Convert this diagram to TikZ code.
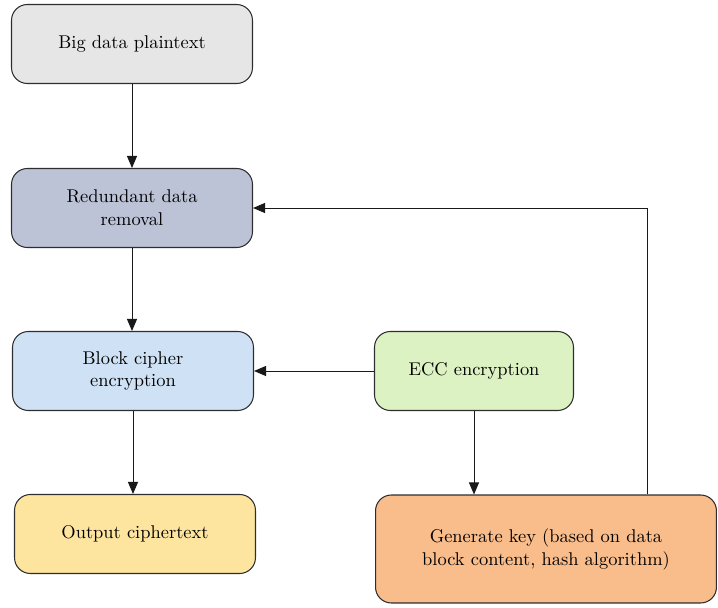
\documentclass[tikz,border=0pt]{standalone}
\usepackage{xcolor}
\usetikzlibrary{arrows.meta, calc}
\definecolor{plaingray}{HTML}{E6E6E6}
\definecolor{redundblue}{HTML}{BCC3D6}
\definecolor{blockblue}{HTML}{CFE2F5}
\definecolor{outyellow}{HTML}{FDE5A0}
\definecolor{eccgreen}{HTML}{DDF2C3}
\definecolor{keyorange}{HTML}{F9BC8B}
\definecolor{edgegray}{HTML}{2E2E2E}

\begin{document}
\begin{tikzpicture}[
  x=0.02cm, y=-0.02cm,
  font=\fontsize{10.5}{13}\selectfont,
  box/.style={rectangle, rounded corners=9pt, draw=edgegray, line width=0.6pt,
              minimum width=4.82cm, minimum height=1.58cm, align=center, text=black},
  arr/.style={-{Triangle[length=2.4mm, width=2mm]}, line width=0.55pt, draw=black!90}
]
\useasboundingbox (0,0) rectangle (718,608);
%% nodes (L column x=132, R column x=474)
\node[box, fill=plaingray]  (b_plain)  at (132, 44)  {Big data plaintext};
\node[box, fill=redundblue] (b_redund) at (132, 208) {Redundant data\\removal};
\node[box, fill=blockblue]  (b_block)  at (133, 371) {Block cipher\\encryption};
\node[box, fill=outyellow]  (b_out)    at (135, 534) {Output ciphertext};
\node[box, fill=eccgreen, minimum width=3.98cm] (b_ecc) at (474, 371) {ECC encryption};
\node[box, fill=keyorange, minimum width=6.82cm, minimum height=2.16cm]
    (b_key) at (546, 549) {Generate key (based on data\\block content, hash algorithm)};
%% turning point of the key feedback line
\coordinate (fb_turn) at (647, 208);
%% arrows
\draw[arr] (b_plain)  -- (b_redund);
\draw[arr] (b_redund.south) -- (b_redund.south |- b_block.north);
\draw[arr] (b_block.south)  -- (b_block.south |- b_out.north);
\draw[arr] (b_ecc.west)  -- (b_block.east |- b_ecc.west);
\draw[arr] (b_ecc.south) -- (b_ecc.south |- b_key.north);
%% feedback: key goes back to redundancy removal
\draw[arr] (b_key.north -| fb_turn) -- (fb_turn) -- (b_redund.east);
\end{tikzpicture}
\end{document}
